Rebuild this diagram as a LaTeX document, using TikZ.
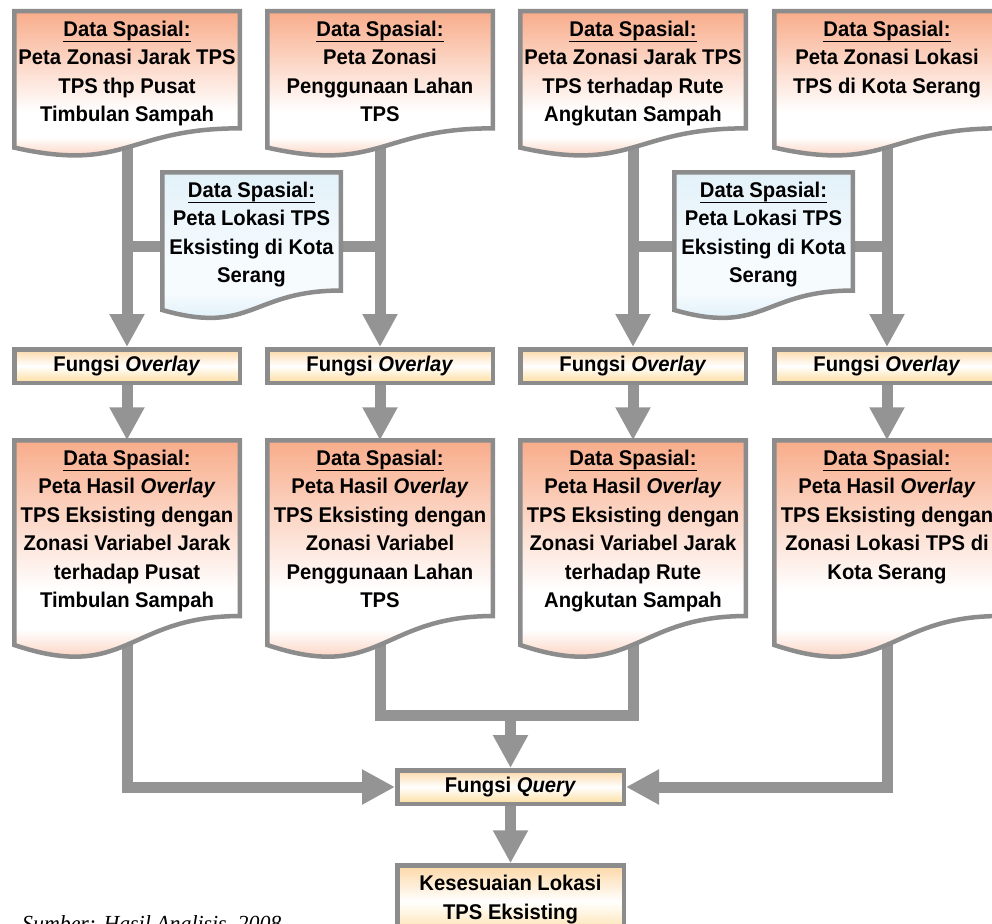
\documentclass[tikz,border=0pt]{standalone}
\usepackage{fontspec}
\setmainfont[FakeStretch=0.95]{Liberation Sans}
\newfontfamily\footfont[FakeStretch=0.95]{Liberation Serif}
\usetikzlibrary{arrows.meta,calc}

\definecolor{bordergray}{RGB}{140,140,140}
\definecolor{arrowgray}{RGB}{148,148,148}
\definecolor{salm}{RGB}{248,172,138}
\definecolor{bluetop}{RGB}{226,241,249}
\definecolor{bluebot}{RGB}{210,233,245}
\definecolor{bluemid}{RGB}{246,251,254}
\definecolor{oratop}{RGB}{252,216,166}
\definecolor{orabot}{RGB}{253,221,158}

% vertical fills of the document shapes (25bp = bottom, 75bp = top of the path)
\pgfdeclareverticalshading{salmdoc}{100bp}{color(0bp)=(salm); color(25bp)=(salm);
  color(36bp)=(white); color(44bp)=(white); color(75bp)=(salm); color(100bp)=(salm)}
\pgfdeclareverticalshading{bluedoc}{100bp}{color(0bp)=(bluebot); color(25bp)=(bluebot);
  color(38bp)=(bluemid); color(48bp)=(bluemid); color(75bp)=(bluetop); color(100bp)=(bluetop)}

\pgfdeclarelayer{bg}
\pgfdeclarelayer{mid}
\pgfsetlayers{bg,mid,main}

% top-aligned, centred text block of a given width and height
\newcommand\doctext[3]{\parbox[c][#2][t]{#1}{\centering\bfseries\fontsize{21.3}{28.4}\selectfont\rule{0pt}{25.3pt}#3}}
\newcommand\ulabel[1]{\setbox0\hbox{#1}\rlap{\rule[-5.6pt]{\wd0}{1.6pt}}\box0}
\newcommand\dsp{\ulabel{Data Spasial:}}

\begin{document}
\begin{tikzpicture}[x=1pt,y=-1pt,
  docnode/.style={rectangle, inner sep=0pt, outer sep=0pt, anchor=north west},
  docline/.style={draw=bordergray, line width=4.5pt, shade},
  docpath/.style={insert path={(#1.north west) -- (#1.north east)
      -- ($(#1.north east)!0.802!(#1.south east)$)
      .. controls ($(#1.north)!0.802!(#1.south)$) and ($(#1.north)!1.1075!(#1.south)$)
      .. ($(#1.north west)!0.934!(#1.south west)$) -- cycle}},
  fbox/.style={rectangle, draw=bordergray, line width=4.5pt, inner sep=0pt,
    minimum width=225.5pt, minimum height=33.5pt,
    top color=oratop, bottom color=orabot, middle color=white,
    font=\bfseries\fontsize{21.3}{28.4}\selectfont},
  flow/.style={draw=arrowgray, line width=11pt},
  tip/.style={-{Triangle[width=33pt,length=33pt]}}]
\useasboundingbox (0,0) rectangle (992,923);

% source documents
\node[docnode] (t1) at (14.25,11.25) {\doctext{225.5pt}{146pt}{\dsp\\Peta Zonasi Jarak TPS\\TPS thp Pusat\\Timbulan Sampah}};
\node[docnode] (t2) at (267.25,11.25) {\doctext{225.5pt}{146pt}{\dsp\\Peta Zonasi\\Penggunaan Lahan\\TPS}};
\node[docnode] (t3) at (520.25,11.25) {\doctext{225.5pt}{146pt}{\dsp\\Peta Zonasi Jarak TPS\\TPS terhadap Rute\\Angkutan Sampah}};
\node[docnode] (t4) at (774.25,11.25) {\doctext{225.5pt}{146pt}{\dsp\\Peta Zonasi Lokasi\\TPS di Kota Serang}};

% existing locations
\node[docnode] (bA) at (162.25,172.25) {\doctext{178.5pt}{147.5pt}{\dsp\\Peta Lokasi TPS\\Eksisting di Kota\\Serang}};
\node[docnode] (bB) at (674.25,172.25) {\doctext{178.5pt}{147.5pt}{\dsp\\Peta Lokasi TPS\\Eksisting di Kota\\Serang}};

% overlay steps
\node[fbox] (o1) at (127,366) {Fungsi \textit{Overlay}};
\node[fbox] (o2) at (380,366) {Fungsi \textit{Overlay}};
\node[fbox] (o3) at (633,366) {Fungsi \textit{Overlay}};
\node[fbox] (o4) at (887,366) {Fungsi \textit{Overlay}};

% overlay results
\node[docnode] (r1) at (14.25,440.25) {\doctext{225.5pt}{219.2pt}{\dsp\\Peta Hasil \textit{Overlay}\\TPS Eksisting dengan\\Zonasi Variabel Jarak\\terhadap Pusat\\Timbulan Sampah}};
\node[docnode] (r2) at (267.25,440.25) {\doctext{225.5pt}{219.2pt}{\dsp\\Peta Hasil \textit{Overlay}\\TPS Eksisting dengan\\Zonasi Variabel\\Penggunaan Lahan\\TPS}};
\node[docnode] (r3) at (520.25,440.25) {\doctext{225.5pt}{219.2pt}{\dsp\\Peta Hasil \textit{Overlay}\\TPS Eksisting dengan\\Zonasi Variabel Jarak\\terhadap Rute\\Angkutan Sampah}};
\node[docnode] (r4) at (774.25,440.25) {\doctext{225.5pt}{219.2pt}{\dsp\\Peta Hasil \textit{Overlay}\\TPS Eksisting dengan\\Zonasi Lokasi TPS di\\Kota Serang}};

% query and result
\node[fbox, minimum width=226.5pt] (q) at (510.5,787) {Fungsi \textit{Query}};
\node[fbox, minimum width=226.5pt, anchor=north] (fin) at (510.5,863.25)
  {\parbox[c][72pt][t]{226.5pt}{\centering\fontsize{21.3}{29.5}\selectfont\rule{0pt}{24.8pt}Kesesuaian Lokasi\\TPS Eksisting}};

\node[anchor=base west, inner sep=0pt, font=\footfont\itshape\fontsize{23}{27}\selectfont] (src) at (22,931) {Sumber: Hasil Analisis, 2008};

% document outlines
\begin{pgfonlayer}{mid}
  \foreach \n in {t1,t2,t3,t4,r1,r2,r3,r4}
    \path[docline, shading=salmdoc, docpath=\n];
  \foreach \n in {bA,bB}
    \path[docline, shading=bluedoc, docpath=\n];
\end{pgfonlayer}

% connectors
\begin{pgfonlayer}{bg}
  \foreach \i in {1,2,3,4} {
    \draw[flow,tip] (t\i.center) -- (o\i.north);
    \draw[flow,tip] (o\i.south) -- (r\i.north);
  }
  \draw[flow] (bA.center -| t1.center) -- (bA.center -| t2.center);
  \draw[flow] (bB.center -| t3.center) -- (bB.center -| t4.center);
  \draw[flow,tip] (r1.center) |- (q.west);
  \draw[flow,tip] (r4.center) |- (q.east);
  \coordinate (j) at (q.north |- 0,715);
  \draw[flow] (r2.center) |- (j) -| (r3.center);
  \draw[flow,tip] (j) -- (q.north);
  \draw[flow,tip] (q.south) -- (fin.north);
\end{pgfonlayer}
\end{tikzpicture}
\end{document}
